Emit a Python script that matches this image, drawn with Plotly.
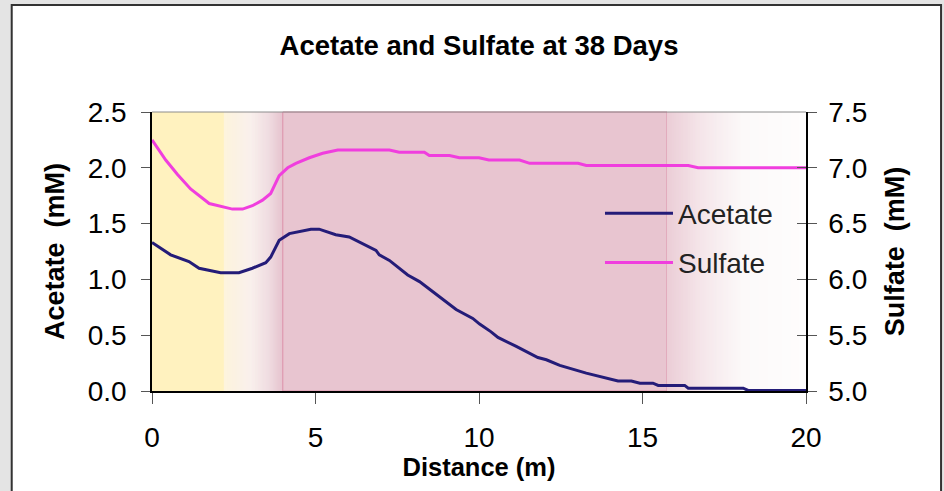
import plotly.graph_objects as go

# Acetate profile (left axis, mM) along the flow path
acetate_x = [0, 0.37, 0.57, 1.13, 1.44, 2.1, 2.66, 3.07, 3.48, 3.63, 3.89, 4.2, 4.5,
             4.86, 5.11, 5.62, 6.03, 6.44, 6.85, 6.95, 7.26, 7.82, 8.18, 8.59, 9.3,
             9.81, 10.02, 10.37, 10.58, 11.14, 11.8, 12.06, 12.47, 13.28, 13.69,
             14.25, 14.66, 14.92, 15.32, 15.48, 16.29, 16.4, 18.08, 18.23, 20]
acetate = [1.33, 1.26, 1.22, 1.16, 1.10, 1.06, 1.06, 1.10, 1.15, 1.20, 1.35, 1.41, 1.43,
           1.45, 1.45, 1.40, 1.38, 1.32, 1.26, 1.22, 1.17, 1.04, 0.98, 0.89, 0.73,
           0.65, 0.60, 0.53, 0.48, 0.40, 0.30, 0.28, 0.23, 0.16, 0.13,
           0.09, 0.09, 0.07, 0.07, 0.05, 0.05, 0.025, 0.025, 0.005, 0.005]

# Sulfate profile (right axis, mM)
sulfate_x = [0, 0.42, 0.78, 1.18, 1.75, 2.16, 2.46, 2.77, 3.07, 3.38, 3.63, 3.89, 4.15,
             4.4, 4.81, 5.22, 5.68, 7.26, 7.56, 8.33, 8.48, 9.1, 9.4, 10.0, 10.3,
             11.24, 11.55, 13.03, 13.28, 16.4, 16.7, 20]
sulfate = [7.25, 7.07, 6.94, 6.81, 6.68, 6.65, 6.63, 6.63, 6.66, 6.71, 6.77, 6.93, 7.00,
           7.04, 7.09, 7.13, 7.16, 7.16, 7.14, 7.14, 7.11, 7.11, 7.09, 7.09, 7.07,
           7.07, 7.04, 7.04, 7.02, 7.02, 7.00, 7.00]

x_ticks = [0, 5, 10, 15, 20]
acetate_ticks = [0.0, 0.5, 1.0, 1.5, 2.0, 2.5]
sulfate_ticks = [5.0, 5.5, 6.0, 6.5, 7.0, 7.5]

# Background zones along distance (m)
yellow_zone = (0, 2.2)
pink_zone = (4.0, 15.75)
x_end = 20

FONT = "Liberation Sans"


def hex_to_rgb(h):
    h = h.lstrip("#")
    return tuple(int(h[i:i + 2], 16) for i in (0, 2, 4))


def blend(stops, t):
    """Piecewise-linear colour between (position, hex) stops, t in [0, 1]."""
    for (p0, c0), (p1, c1) in zip(stops, stops[1:]):
        if p0 <= t <= p1:
            f = 0 if p1 == p0 else (t - p0) / (p1 - p0)
            a, b = hex_to_rgb(c0), hex_to_rgb(c1)
            return "rgb({},{},{})".format(*[round(a[i] + (b[i] - a[i]) * f) for i in range(3)])
    return stops[-1][1]


def gradient_strips(x0, x1, stops, n=80):
    # overlapping strips so no seams show between neighbours
    out = []
    w = (x1 - x0) / n
    for i in range(n):
        t = (i + 0.5) / n
        right = min(x0 + (i + 2) * w, x1)
        out.append(dict(type="rect", xref="x", yref="y domain", x0=x0 + i * w,
                        x1=right, y0=0, y1=1,
                        fillcolor=blend(stops, t), line=dict(width=0), layer="below"))
    return out


shapes = []
# outer panel: white card with dark frame on grey page
shapes.append(dict(type="rect", xref="paper", yref="paper", x0=-0.2145, x1=1.2065,
                   y0=-0.40, y1=1.3835, fillcolor="white",
                   line=dict(color="#333333", width=2), layer="below"))
shapes.append(dict(type="rect", xref="x", yref="y domain", x0=yellow_zone[0], x1=yellow_zone[1],
                   y0=0, y1=1, fillcolor="#fff2bf", line=dict(width=0), layer="below"))
shapes += gradient_strips(yellow_zone[1], pink_zone[0],
                          [(0, "#fdf4dc"), (0.45, "#f9f0ec"), (0.75, "#f0dde2"), (1, "#e6c3cd")])
shapes.append(dict(type="rect", xref="x", yref="y domain", x0=pink_zone[0], x1=pink_zone[1],
                   y0=0, y1=1, fillcolor="#e8c5d0", line=dict(color="#dc8fa8", width=1),
                   layer="below"))
shapes += gradient_strips(pink_zone[1], x_end,
                          [(0, "#ebcdd6"), (0.25, "#f5e6ea"), (0.55, "#fcf9f9"), (1, "#fefdfd")])
# thin frame line along the top of the plot area
shapes.append(dict(type="line", xref="paper", yref="paper", x0=0, x1=1, y0=1, y1=1,
                   line=dict(color="#8c8c8c", width=1)))

fig = go.Figure()
fig.add_trace(go.Scatter(x=acetate_x, y=acetate, name="Acetate", mode="lines",
                         line=dict(color="#241c78", width=3), legendgroup="a"))
fig.add_trace(go.Scatter(x=sulfate_x, y=sulfate, name="Sulfate", mode="lines",
                         line=dict(color="#f03ede", width=3), yaxis="y2", legendgroup="s"))

axis_font = dict(family=FONT, size=28, color="black")
title_font = dict(family=FONT, size=27, color="black")

fig.update_layout(
    width=944, height=491,
    margin=dict(l=152, r=138, t=112, b=100),
    paper_bgcolor="#e4e4e4",
    plot_bgcolor="white",
    title=dict(text="<b>Acetate and Sulfate at 38 Days</b>", x=0.5, xref="paper",
               y=1 - 45 / 491, yref="container", yanchor="middle", xanchor="center",
               font=dict(family=FONT, size=27.5, color="black")),
    xaxis=dict(range=[0, x_end], tickvals=x_ticks, ticks="outside", ticklen=11,
               tickcolor="#555555", showline=True, linecolor="black", linewidth=1.5,
               showgrid=False, zeroline=False, tickfont=axis_font, ticklabelstandoff=10,
               title=dict(text="<b>Distance (m)</b>", font=dict(family=FONT, size=25.5,
                                                                  color="black"),
                          standoff=0)),
    yaxis=dict(range=[0, 2.5], tickvals=acetate_ticks, tickformat=".1f", ticks="outside",
               ticklen=9, tickcolor="#555555", showline=True, linecolor="black",
               linewidth=1.5, showgrid=False, zeroline=False, tickfont=axis_font,
               ticklabelstandoff=9,
               title=dict(text="<b>Acetate  (mM)</b>", font=title_font, standoff=15)),
    yaxis2=dict(range=[5, 7.5], tickvals=sulfate_ticks, tickformat=".1f", overlaying="y",
                side="right", ticks="outside", ticklen=9, tickcolor="#555555",
                showline=True, linecolor="black", linewidth=1.5, showgrid=False,
                zeroline=False, tickfont=axis_font, ticklabelstandoff=6,
                title=dict(text="<b>Sulfate  (mM)</b>", font=title_font, standoff=19)),
    yaxis3=dict(range=[5, 7.5], tickvals=sulfate_ticks, overlaying="y", side="right",
                ticks="inside", ticklen=9, tickcolor="#555555", showticklabels=False,
                showline=False, showgrid=False, zeroline=False),
    legend=dict(x=0.685, y=0.726, xanchor="left", yanchor="top", bgcolor="rgba(0,0,0,0)",
                font=dict(family=FONT, size=28, color="#222222"), itemwidth=68,
                traceorder="grouped", tracegroupgap=10),
    shapes=shapes,
)
# empty trace so the inner tick axis is rendered
fig.add_trace(go.Scatter(x=[None], y=[None], yaxis="y3", showlegend=False, hoverinfo="skip"))

fig.write_html("out.html")
